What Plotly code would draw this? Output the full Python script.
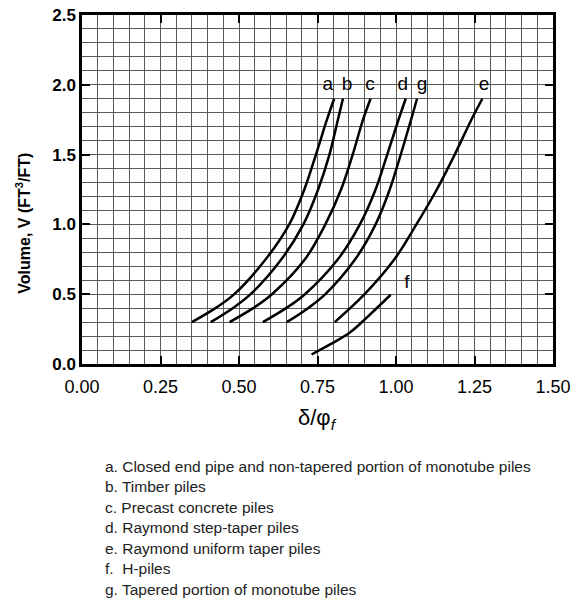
import plotly.graph_objects as go

# volume levels (FT^3/FT)
v_levels = [0.3, 0.4, 0.5, 0.75, 1.0, 1.25, 1.5, 1.75, 1.9]

# delta/phi_f for each pile type at those volume levels
a_x = [0.350, 0.425, 0.485, 0.585, 0.660, 0.708, 0.745, 0.780, 0.803]
b_x = [0.410, 0.480, 0.537, 0.635, 0.705, 0.752, 0.788, 0.815, 0.831]
c_x = [0.470, 0.545, 0.605, 0.710, 0.775, 0.825, 0.862, 0.895, 0.919]
d_x = [0.576, 0.650, 0.710, 0.815, 0.885, 0.935, 0.972, 1.008, 1.031]
g_x = [0.652, 0.720, 0.775, 0.870, 0.935, 0.980, 1.015, 1.048, 1.067]

e_v = [0.3, 0.5, 0.75, 1.0, 1.25, 1.5, 1.75, 1.9]
e_x = [0.805, 0.900, 0.995, 1.065, 1.130, 1.187, 1.240, 1.275]

f_v = [0.068, 0.14, 0.225, 0.354, 0.496]
f_x = [0.731, 0.790, 0.853, 0.917, 0.983]

# curve letters and where they sit
label_text = ["a", "b", "c", "d", "g", "e", "f"]
label_x = [0.783, 0.844, 0.917, 1.022, 1.083, 1.280, 1.035]
label_y = [2.0, 2.0, 2.0, 2.0, 2.0, 2.0, 0.58]

notes = [
    "a. Closed end pipe and non-tapered portion of monotube piles",
    "b. Timber piles",
    "c. Precast concrete piles",
    "d. Raymond step-taper piles",
    "e. Raymond uniform taper piles",
    "f.  H-piles",
    "g. Tapered portion of monotube piles",
]

FONT = "Liberation Sans, Arial, sans-serif"

fig = go.Figure()

curves = [(a_x, v_levels), (b_x, v_levels), (c_x, v_levels), (d_x, v_levels),
          (g_x, v_levels), (e_x, e_v), (f_x, f_v)]
for xs, vs in curves:
    fig.add_trace(go.Scatter(x=xs, y=vs, mode="lines",
                             line=dict(color="black", width=2.5, shape="spline"),
                             showlegend=False, hoverinfo="skip"))

fig.add_trace(go.Scatter(x=label_x, y=label_y, mode="text", text=label_text,
                         textfont=dict(family=FONT, size=19, color="black"),
                         showlegend=False, hoverinfo="skip"))

W, H = 574, 598
L, R, T, B = 82, 21, 15, 233.5
pw, ph = W - L - R, H - T - B

def py(pix):  # pixel row -> paper y
    return (H - B - pix) / ph

def px(pix):
    return (pix - L) / pw

ann = []
ann.append(dict(text="<b>Volume, V (FT<sup>3</sup>/FT)</b>", textangle=-90,
                x=px(23), y=py(224), xref="paper", yref="paper",
                xanchor="center", yanchor="middle",
                showarrow=False, font=dict(family=FONT, size=16, color="black")))
ann.append(dict(text="δ/φ<sub><i>f</i></sub>", x=0.5, y=py(420),
                xref="paper", yref="paper", xanchor="center", yanchor="middle",
                showarrow=False, font=dict(family=FONT, size=22, color="black")))
for i, t in enumerate(notes):
    ann.append(dict(text=t, x=px(103), y=py(467 + i * 20.5), xref="paper", yref="paper",
                    xanchor="left", yanchor="middle", showarrow=False,
                    font=dict(family=FONT, size=15.5, color="#222")))

fig.update_layout(
    width=W, height=H,
    margin=dict(l=L, r=R, t=T, b=B),
    paper_bgcolor="white", plot_bgcolor="white",
    annotations=ann,
    xaxis=dict(range=[0, 1.5], dtick=0.25, tickformat=".2f", automargin=False,
               showgrid=True, gridcolor="#5a5a5a", gridwidth=1,
               minor=dict(dtick=0.05, showgrid=True, gridcolor="#5a5a5a", gridwidth=1),
               ticks="inside", ticklen=8, tickwidth=2, tickcolor="black",
               showline=True, linecolor="black", linewidth=2.5, mirror="ticks",
               zeroline=False, ticklabelstandoff=5,
               tickfont=dict(family=FONT, size=18, color="black")),
    yaxis=dict(range=[0, 2.5], dtick=0.5, tickformat=".1f", automargin=False,
               showgrid=True, gridcolor="#5a5a5a", gridwidth=1,
               minor=dict(dtick=0.1, showgrid=True, gridcolor="#5a5a5a", gridwidth=1),
               ticks="inside", ticklen=8, tickwidth=2, tickcolor="black",
               showline=True, linecolor="black", linewidth=2.5, mirror="ticks",
               zeroline=False, ticklabelstandoff=0,
               tickprefix="<b>", ticksuffix="</b>",
               tickfont=dict(family=FONT, size=17, color="black")),
)

fig.write_html("out.html", config={"displayModeBar": False},
               post_script="document.body.style.margin='0';")
